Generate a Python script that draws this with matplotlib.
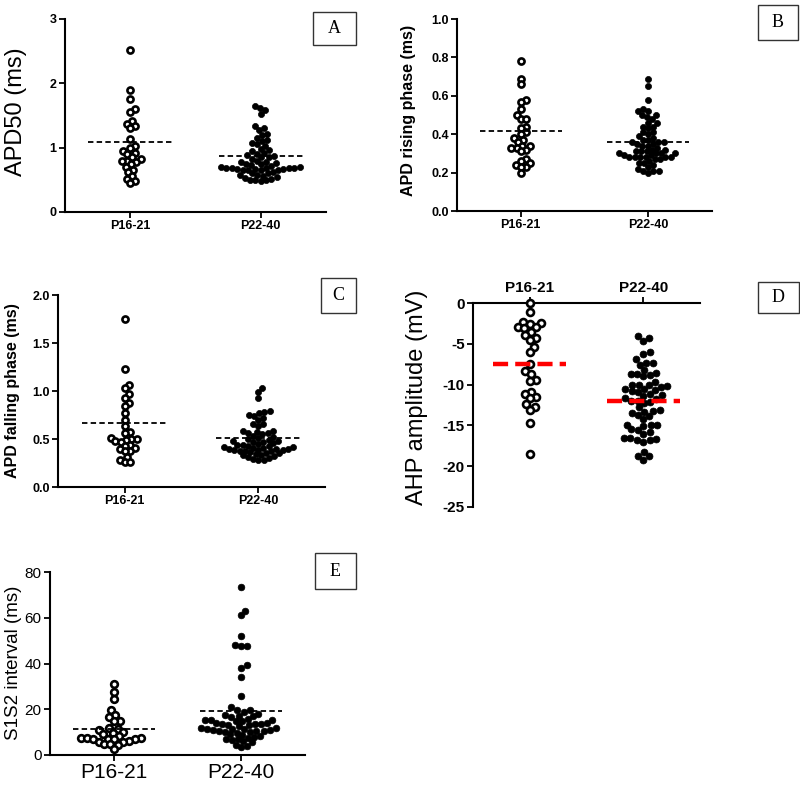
import numpy as np
import matplotlib
matplotlib.use('Agg')
import matplotlib.pyplot as plt
from matplotlib.patches import Rectangle

plt.rcParams['font.family'] = ['Liberation Sans', 'DejaVu Sans']

categories = ['P16-21', 'P22-40']

# Panel A: APD50 (ms)
apd50_p16 = [2.52, 1.89, 1.75, 1.60, 1.55, 1.42, 1.37, 1.33, 1.30, 1.14, 1.02, 0.99,
             0.95, 0.92, 0.90, 0.85, 0.82, 0.80, 0.80, 0.78, 0.74, 0.70, 0.66, 0.62,
             0.56, 0.52, 0.48, 0.45]
apd50_p22 = [1.65, 1.62, 1.58, 1.52, 1.33, 1.30, 1.27, 1.22, 1.20, 1.15, 1.12, 1.10,
             1.08, 1.05, 1.02, 0.98, 0.96, 0.95, 0.92, 0.90, 0.88, 0.87, 0.85, 0.85,
             0.83, 0.80, 0.78, 0.77, 0.76, 0.75, 0.74, 0.73, 0.72, 0.70, 0.70, 0.69,
             0.69, 0.68, 0.68, 0.68, 0.67, 0.67, 0.67, 0.66, 0.66, 0.66, 0.65, 0.62,
             0.60, 0.60, 0.58, 0.57, 0.56, 0.55, 0.53, 0.52, 0.50, 0.50, 0.49, 0.48]
apd50_means = [1.09, 0.87]

# Panel B: APD rising phase (ms)
rise_p16 = [0.78, 0.69, 0.66, 0.58, 0.57, 0.53, 0.50, 0.48, 0.48, 0.44, 0.43, 0.41,
            0.40, 0.38, 0.37, 0.36, 0.34, 0.34, 0.33, 0.33, 0.32, 0.31, 0.27, 0.26,
            0.25, 0.24, 0.23, 0.23, 0.20]
rise_p22 = [0.69, 0.65, 0.58, 0.53, 0.52, 0.52, 0.50, 0.50, 0.49, 0.48, 0.46, 0.46,
            0.44, 0.44, 0.43, 0.41, 0.41, 0.40, 0.39, 0.38, 0.37, 0.37, 0.36, 0.36,
            0.36, 0.35, 0.35, 0.34, 0.34, 0.33, 0.32, 0.32, 0.31, 0.31, 0.31, 0.30,
            0.30, 0.30, 0.30, 0.29, 0.29, 0.28, 0.28, 0.28, 0.28, 0.28, 0.28, 0.27,
            0.27, 0.26, 0.25, 0.25, 0.24, 0.23, 0.22, 0.21, 0.21, 0.21, 0.20]
rise_means = [0.415, 0.36]

# Panel C: APD falling phase (ms)
fall_p16 = [1.75, 1.23, 1.06, 1.03, 0.97, 0.93, 0.88, 0.84, 0.77, 0.70, 0.64, 0.57,
            0.56, 0.51, 0.50, 0.50, 0.49, 0.48, 0.47, 0.44, 0.43, 0.41, 0.40, 0.38,
            0.37, 0.31, 0.28, 0.26, 0.26]
fall_p22 = [1.03, 0.99, 0.93, 0.79, 0.78, 0.77, 0.75, 0.74, 0.72, 0.70, 0.66, 0.66,
            0.64, 0.58, 0.58, 0.57, 0.56, 0.56, 0.55, 0.53, 0.52, 0.51, 0.50, 0.49,
            0.48, 0.48, 0.47, 0.47, 0.46, 0.45, 0.44, 0.44, 0.43, 0.43, 0.42, 0.42,
            0.41, 0.41, 0.40, 0.40, 0.40, 0.39, 0.39, 0.39, 0.38, 0.38, 0.37, 0.36,
            0.35, 0.35, 0.34, 0.33, 0.33, 0.32, 0.31, 0.30, 0.29, 0.28, 0.28]
fall_means = [0.665, 0.51]

# Panel D: AHP amplitude (mV)
ahp_p16 = [0.0, -1.1, -2.3, -2.5, -2.6, -2.9, -3.0, -3.1, -3.5, -3.9, -4.3, -4.5,
           -5.4, -6.0, -7.5, -8.3, -8.7, -9.4, -9.5, -10.9, -11.2, -11.5, -11.7,
           -12.4, -12.7, -13.1, -14.7, -18.5]
ahp_p22 = [-4.1, -4.3, -4.6, -6.0, -6.2, -6.9, -7.3, -7.4, -7.6, -8.2, -8.6, -8.7,
           -8.7, -8.8, -9.0, -9.7, -10.0, -10.1, -10.1, -10.2, -10.3, -10.5, -10.6,
           -10.7, -10.8, -10.9, -11.2, -11.3, -11.4, -11.7, -11.8, -12.0, -12.0,
           -12.1, -12.3, -12.8, -13.1, -13.2, -13.3, -13.5, -13.7, -13.8, -14.2,
           -14.9, -15.0, -15.0, -15.1, -15.5, -15.6, -15.8, -16.0, -16.5, -16.6,
           -16.7, -16.8, -16.8, -17.0, -18.3, -18.7, -18.8, -19.2]
ahp_means = [-7.5, -12.0]

# Panel E: S1S2 interval (ms)
s1s2_p16 = [31.0, 27.6, 24.4, 19.5, 17.5, 16.5, 15.0, 14.8, 11.6, 11.2, 10.8, 10.0,
            9.5, 9.0, 8.5, 7.6, 7.4, 7.3, 7.2, 7.1, 7.0, 6.9, 6.0, 5.8, 5.6, 5.0,
            4.6, 4.2, 2.5]
s1s2_p22 = [73.5, 63.0, 61.0, 52.0, 48.0, 47.8, 47.6, 39.2, 38.0, 34.2, 26.0, 20.8,
            19.8, 19.5, 18.8, 17.8, 17.5, 17.2, 17.0, 16.5, 15.6, 15.4, 15.3, 15.2,
            15.0, 14.8, 14.0, 13.8, 13.6, 13.5, 13.4, 13.2, 13.0, 12.5, 12.0, 11.7,
            11.5, 11.3, 11.2, 11.0, 10.8, 10.5, 10.4, 10.3, 10.2, 10.0, 9.8, 9.0,
            8.8, 8.5, 8.0, 7.5, 7.2, 7.0, 6.5, 6.0, 5.5, 4.5, 4.0, 3.5]
s1s2_means = [11.2, 19.3]

W, H = 800, 789
fig = plt.figure(figsize=(W / 100, H / 100), dpi=100)


def add_ax(left, top, right, bottom):
    return fig.add_axes([left / W, 1 - bottom / H, (right - left) / W, (bottom - top) / H])


def swarm(ax, values, d_px):
    vals = np.asarray(values, float)
    ys = ax.transData.transform(np.column_stack([np.zeros(len(vals)), vals]))[:, 1]
    order = np.argsort(ys)
    placed = []
    xs = np.zeros(len(vals))
    for i in order:
        y = ys[i]
        near = [(px, py) for px, py in placed if abs(py - y) < d_px]
        cands = [0.0]
        for px, py in near:
            dx = np.sqrt(max(d_px ** 2 - (py - y) ** 2, 0))
            cands += [px + dx, px - dx]
        cands.sort(key=abs)
        for c in cands:
            if all((c - px) ** 2 + (y - py) ** 2 >= d_px ** 2 - 1e-6 for px, py in near):
                xs[i] = c
                placed.append((c, y))
                break
    x0 = ax.transData.transform((0, 0))[0]
    x1 = ax.transData.transform((1, 0))[0]
    return xs / (x1 - x0)


def panel(ax, groups, means, ylim, yticks, ytl, msize, dpx, mean_color='black',
          mean_lw=1.3, mean_dash=(3, 1.8), tick_fs=9, tick_bold=True, xtick_fs=9,
          xtick_bold=True, top_axis=False):
    ax.set_xlim(-0.5, 1.5)
    ax.set_ylim(*ylim)
    for gi, vals in enumerate(groups):
        off = swarm(ax, vals, dpx)
        if gi == 0:
            ax.plot(gi + off, vals, 'o', ms=msize, mfc='white', mec='black', mew=1.9,
                    ls='none', clip_on=False, zorder=3)
        else:
            ax.plot(gi + off, vals, 'o', ms=msize, mfc='black', mec='black', mew=0.5,
                    ls='none', clip_on=False, zorder=3)
        ax.plot([gi - 0.32, gi + 0.32], [means[gi], means[gi]], color=mean_color,
                lw=mean_lw, dashes=mean_dash, zorder=4)
    ax.set_yticks(yticks)
    ax.set_yticklabels(ytl, fontsize=tick_fs, fontweight='bold' if tick_bold else 'normal')
    ax.set_xticks([0, 1])
    ax.set_xticklabels(categories, fontsize=xtick_fs,
                       fontweight='bold' if xtick_bold else 'normal')
    for s in ['top', 'right', 'bottom', 'left']:
        ax.spines[s].set_visible(False)
    ax.spines['left'].set_visible(True)
    ax.spines['left'].set_linewidth(1.5)
    if top_axis:
        ax.spines['top'].set_visible(True)
        ax.spines['top'].set_linewidth(1.5)
        ax.xaxis.tick_top()
    else:
        ax.spines['bottom'].set_visible(True)
        ax.spines['bottom'].set_linewidth(1.5)
    ax.tick_params(direction='out', length=4, width=1.3, pad=2)
    ax.patch.set_visible(False)


def box(x0, y0, x1, y1, letter):
    fig.patches.append(Rectangle((x0 / W, 1 - y1 / H), (x1 - x0) / W, (y1 - y0) / H,
                                 transform=fig.transFigure, fill=False, ec='#333333',
                                 lw=1.0))
    fig.text((x0 + x1) / 2 / W, 1 - (y0 + y1) / 2 / H, letter, ha='center', va='center',
             fontsize=13, family='Liberation Serif')


# A
axA = add_ax(65, 19, 326, 212)
panel(axA, [apd50_p16, apd50_p22], apd50_means, (0, 3), [0, 1, 2, 3],
      ['0', '1', '2', '3'], 4.4, 5.5)
fig.text(16 / W, 1 - 112 / H, 'APD50 (ms)', rotation=90, ha='center', va='center',
         fontsize=17)
box(313, 12, 356, 45, 'A')

# B
axB = add_ax(457, 19, 712, 211)
panel(axB, [rise_p16, rise_p22], rise_means, (0, 1.0), [0, 0.2, 0.4, 0.6, 0.8, 1.0],
      ['0.0', '0.2', '0.4', '0.6', '0.8', '1.0'], 4.4, 5.5)
fig.text(409 / W, 1 - 110 / H, 'APD rising phase (ms)', rotation=90, ha='center',
         va='center', fontsize=11.5, fontweight='bold')
box(758, 5, 798, 40, 'B')

# C
axC = add_ax(58, 295, 325, 487)
panel(axC, [fall_p16, fall_p22], fall_means, (0, 2.0), [0, 0.5, 1.0, 1.5, 2.0],
      ['0.0', '0.5', '1.0', '1.5', '2.0'], 4.4, 5.5)
fig.text(13 / W, 1 - 391 / H, 'APD falling phase (ms)', rotation=90, ha='center',
         va='center', fontsize=11.5, fontweight='bold')
box(321, 278, 356, 313, 'C')

# D
axD = add_ax(473, 303, 700, 507)
panel(axD, [ahp_p16, ahp_p22], ahp_means, (-25, 0), [0, -5, -10, -15, -20, -25],
      ['0', '-5', '-10', '-15', '-20', '-25'], 5.0, 6.6, mean_color='#ff0000',
      mean_lw=3.2, mean_dash=(3.4, 1.6), tick_fs=11, xtick_fs=11, top_axis=True)
fig.text(417 / W, 1 - 397 / H, 'AHP amplitude (mV)', rotation=90, ha='center',
         va='center', fontsize=17)
box(758, 282, 799, 313, 'D')

# E
axE = add_ax(50, 572, 305, 755)
panel(axE, [s1s2_p16, s1s2_p22], s1s2_means, (0, 80), [0, 20, 40, 60, 80],
      ['0', '20', '40', '60', '80'], 4.8, 6.0, tick_fs=11, tick_bold=False,
      xtick_fs=15, xtick_bold=False)
fig.text(14 / W, 1 - 663 / H, 'S1S2 interval (ms)', rotation=90, ha='center',
         va='center', fontsize=13.5)
box(315, 553, 356, 589, 'E')

fig.savefig('out.png', dpi=100)
